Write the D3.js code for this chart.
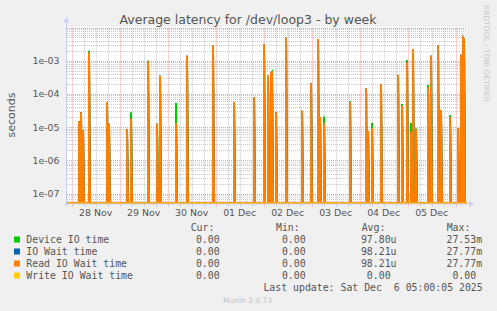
<!DOCTYPE html>
<html><head><meta charset="utf-8">
<script src="https://cdn.jsdelivr.net/npm/d3@7"></script>
<style>
html,body{margin:0;padding:0;background:#F0F0F0;}
svg{display:block;}
text{font-family:"DejaVu Sans",sans-serif;}
.mono{font-family:"DejaVu Sans Mono",monospace;}
</style></head>
<body><svg id="c" width="497" height="311"></svg>
<script>
// ---- data ----
const title = "Average latency for /dev/loop3 - by week";
const yLabel = "seconds";
const graphStart = "2025-11-27 21:40";
const graphEnd = "2025-12-06 05:40";
const dayLabels = ["28 Nov","29 Nov","30 Nov","01 Dec","02 Dec","03 Dec","04 Dec","05 Dec"];
const dayNoons = ["2025-11-28 12:00","2025-11-29 12:00","2025-11-30 12:00","2025-12-01 12:00","2025-12-02 12:00","2025-12-03 12:00","2025-12-04 12:00","2025-12-05 12:00"];
const yTicks = [1e-3,1e-4,1e-5,1e-6,1e-7];
const yTickLabels = ["1e-03","1e-04","1e-05","1e-06","1e-07"];
const spikeTimes = [
 "2025-11-28 03:30","2025-11-28 04:30","2025-11-28 05:30","2025-11-28 08:30","2025-11-28 17:30","2025-11-28 18:30",
 "2025-11-29 03:30","2025-11-29 05:30","2025-11-29 14:00","2025-11-29 18:30","2025-11-29 20:00",
 "2025-11-30 04:00","2025-11-30 09:30","2025-11-30 22:30",
 "2025-12-01 09:00","2025-12-01 19:00",
 "2025-12-02 00:00","2025-12-02 02:00","2025-12-02 03:30","2025-12-02 04:00","2025-12-02 06:00","2025-12-02 11:00","2025-12-02 19:00","2025-12-02 23:30",
 "2025-12-03 03:00","2025-12-03 04:00","2025-12-03 06:00","2025-12-03 19:00",
 "2025-12-04 03:00","2025-12-04 04:00","2025-12-04 06:00","2025-12-04 10:30","2025-12-04 19:00","2025-12-04 21:00","2025-12-04 23:30",
 "2025-12-05 01:30","2025-12-05 02:30","2025-12-05 04:00","2025-12-05 10:00","2025-12-05 11:30","2025-12-05 15:00","2025-12-05 16:30","2025-12-05 21:00",
 "2025-12-06 01:00","2025-12-06 02:30","2025-12-06 03:30","2025-12-06 04:00"];
const readWait = [
 1.5e-5,2.8e-5,8e-6,1.8e-3,5.7e-5,1.26e-5,
 8.7e-6,1.8e-5,9.5e-4,1.26e-5,3.5e-4,
 1.3e-5,1.4e-3,2.8e-3,
 5.7e-5,8e-5,
 3.1e-3,3.5e-4,4.2e-4,4.4e-4,2.8e-5,4.9e-3,3.1e-5,2.1e-4,
 4.5e-3,2e-5,1.3e-5,5.7e-5,
 1.5e-4,7.6e-6,9.6e-6,1.95e-4,3.7e-4,4.5e-5,9e-4,
 7.2e-6,2.25e-3,8.6e-6,1.6e-4,1.4e-3,2.97e-3,3.3e-5,2e-5,
 9.2e-6,1.5e-3,4.9e-3,4.5e-3];
const ioWait = readWait.slice();
const deviceTime = [
 1.5e-5,2.8e-5,8e-6,2e-3,5.7e-5,1.26e-5,
 8.7e-6,2.8e-5,1e-3,1.26e-5,3.5e-4,
 5.3e-5,1.4e-3,2.8e-3,
 5.7e-5,8e-5,
 3.1e-3,3.5e-4,4.2e-4,4.6e-4,2.8e-5,4.9e-3,3.1e-5,2.1e-4,
 4.5e-3,2e-5,2.1e-5,6e-5,
 1.5e-4,7.6e-6,1.34e-5,1.95e-4,3.7e-4,5e-5,1.05e-3,
 1.34e-5,2.25e-3,9e-6,1.85e-4,1.4e-3,2.97e-3,3.3e-5,2.3e-5,
 9.2e-6,1.5e-3,4.9e-3,4.5e-3];
const writeWait = spikeTimes.map(()=>0);
const seriesNames = ["Device IO time","IO Wait time","Read IO Wait time","Write IO Wait time"];
const seriesColors = ["#00CC00","#0066B3","#FF8000","#FFCC00"];
const curVals = ["0.00","0.00","0.00","0.00"];
const minVals = ["0.00","0.00","0.00","0.00"];
const avgVals = [" 97.80u"," 98.21u"," 98.21u","  0.00 "];
const maxVals = [" 27.53m"," 27.77m"," 27.77m","  0.00 "];
const lastUpdate = "Last update: Sat Dec  6 05:00:05 2025";

// ---- layout ----
const svg = d3.select("#c");
const W=497,H=311;
const L=67,R=467,T=27.5,B=203.5;
const parse = d3.timeParse("%Y-%m-%d %H:%M");
const t0=parse(graphStart), t1=parse(graphEnd);
const x = d3.scaleTime().domain([t0,t1]).range([L,R]);
const y = d3.scaleLog().domain([5e-8,1e-2]).range([B,T]);

svg.append("rect").attr("width",W).attr("height",H).attr("fill","#F0F0F0");
svg.append("rect").attr("x",L).attr("y",T).attr("width",R-L).attr("height",B-T).attr("fill","#FFFFFF");

const g = svg.append("g");
const minorY=[];
for(let e=-8;e<=-2;e++){for(let k=2;k<=9;k++){const v=k*Math.pow(10,e); if(v>5e-8 && v<1e-2) minorY.push(v);}}
g.selectAll(".hmin").data(minorY).enter().append("line")
 .attr("x1",L).attr("x2",R).attr("y1",d=>Math.round(y(d))+0.5).attr("y2",d=>Math.round(y(d))+0.5)
 .attr("stroke","#c8c8c8").attr("stroke-dasharray","1,1");
const sixH = d3.timeHour.every(6).range(t0,t1).filter(d=>d.getHours()!==0);
g.selectAll(".vmin").data(sixH).enter().append("line")
 .attr("y1",T).attr("y2",B).attr("x1",d=>Math.round(x(d))+0.5).attr("x2",d=>Math.round(x(d))+0.5)
 .attr("stroke","#c8c8c8").attr("stroke-dasharray","1,1");
const majY=[1e-2,1e-3,1e-4,1e-5,1e-6,1e-7];
g.selectAll(".hmaj").data(majY).enter().append("line")
 .attr("x1",L).attr("x2",R).attr("y1",d=>Math.round(y(d))+0.5).attr("y2",d=>Math.round(y(d))+0.5)
 .attr("stroke","#e8a0a0").attr("stroke-dasharray","1,1");
const days = d3.timeDay.range(t0,t1);
g.selectAll(".vmaj").data(days).enter().append("line")
 .attr("y1",T).attr("y2",B+3).attr("x1",d=>Math.round(x(d))+0.5).attr("x2",d=>Math.round(x(d))+0.5)
 .attr("stroke","#e8a0a0").attr("stroke-dasharray","1,1");

// series: 30-min slots built from the spike arrays (0 elsewhere)
const slots = d3.timeMinute.every(30).range(d3.timeMinute.offset(t0,-30), d3.timeMinute.offset(t1,1));
function points(vals){
  const m=new Map(spikeTimes.map((s,i)=>[+parse(s),vals[i]]));
  const pts=[]; let prev=0;
  slots.forEach(t=>{
    const v=m.has(+t)?m.get(+t):0;
    const px=Math.round(x(t));
    if(v>0 && prev===0) pts.push([px,B-0.5]);
    pts.push([px, v>0?y(v):B-0.5]);
    prev=v;
  });
  return pts;
}
const line = d3.line();
svg.append("clipPath").attr("id","pc").append("rect").attr("x",L).attr("y",T-1).attr("width",R-L+1).attr("height",B-T+2);
const series=[deviceTime,ioWait,readWait,writeWait];
const widths=[2,2,2,1.2];
series.forEach((vals,i)=>{
  svg.append("path").attr("clip-path","url(#pc)").attr("d",line(points(vals)))
   .attr("fill","none").attr("stroke",seriesColors[i]).attr("stroke-width",widths[i]);
});

// axes
const axc="#c8d0ef";
svg.append("line").attr("x1",L-0.5).attr("x2",L-0.5).attr("y1",B+3).attr("y2",T-6).attr("stroke",axc);
svg.append("line").attr("x1",L-3).attr("x2",R+3).attr("y1",B+0.5).attr("y2",B+0.5).attr("stroke",axc);
svg.append("path").attr("d",`M${L-3.5},${T-5} L${L+2.5},${T-5} L${L-0.5},${T-10} Z`).attr("fill",axc);
svg.append("path").attr("d",`M${R+2},${B-2.5} L${R+2},${B+3.5} L${R+7},${B+0.5} Z`).attr("fill",axc);
svg.selectAll(".xt").data(sixH).enter().append("line")
 .attr("x1",d=>Math.round(x(d))+0.5).attr("x2",d=>Math.round(x(d))+0.5).attr("y1",B+1).attr("y2",B+3).attr("stroke","#c8c8c8");

// text
const tc="#555";
svg.append("text").attr("x",248).attr("y",24).attr("text-anchor","middle").attr("font-size",12.5).attr("fill",tc).text(title);
svg.append("text").attr("transform","translate(15,115) rotate(-90)").attr("text-anchor","middle").attr("font-size",11).attr("fill",tc).text(yLabel);
svg.selectAll(".yl").data(yTicks).enter().append("text")
 .attr("x",59.5).attr("y",d=>y(d)+3.5).attr("text-anchor","end").attr("font-size",9.4).attr("fill",tc)
 .text((d,i)=>yTickLabels[i]);
svg.selectAll(".xl").data(dayLabels).enter().append("text")
 .attr("x",(d,i)=>x(parse(dayNoons[i]))).attr("y",215.5).attr("text-anchor","middle").attr("font-size",9.4).attr("fill",tc)
 .text(d=>d);
svg.append("text").attr("transform","translate(484,5) rotate(90)").attr("font-size",7.5).attr("fill","#c8c8c8").text("RRDTOOL / TOBI OETIKER");

// legend
const fs=9.85;
const hdr=[["Cur:",190.7],["Min:",276],["Avg:",361.7],["Max:",446.7]];
hdr.forEach(h=>svg.append("text").attr("class","mono").attr("x",h[1]).attr("y",231).attr("font-size",fs).attr("fill",tc).text(h[0]));
seriesNames.forEach((n,i)=>{
  const yy=239.5+i*12;
  svg.append("rect").attr("x",14).attr("y",yy-3).attr("width",6).attr("height",6).attr("fill",seriesColors[i]);
  const row=[[n,26.3],["  "+curVals[i]+" ",184.1],["  "+minVals[i]+" ",270.1],[avgVals[i],355],[maxVals[i],440.6]];
  row.forEach(c=>svg.append("text").attr("class","mono").attr("x",c[1]).attr("y",yy+3.5).attr("font-size",fs).attr("fill",tc).attr("xml:space","preserve").text(c[0]));
});
svg.append("text").attr("class","mono").attr("x",482.7).attr("y",291).attr("text-anchor","end").attr("font-size",fs).attr("fill",tc).attr("xml:space","preserve").text(lastUpdate);
svg.append("text").attr("x",247.5).attr("y",303).attr("text-anchor","middle").attr("font-size",7.5).attr("fill","#c0c0c0").text("Munin 2.0.73");
</script></body></html>
